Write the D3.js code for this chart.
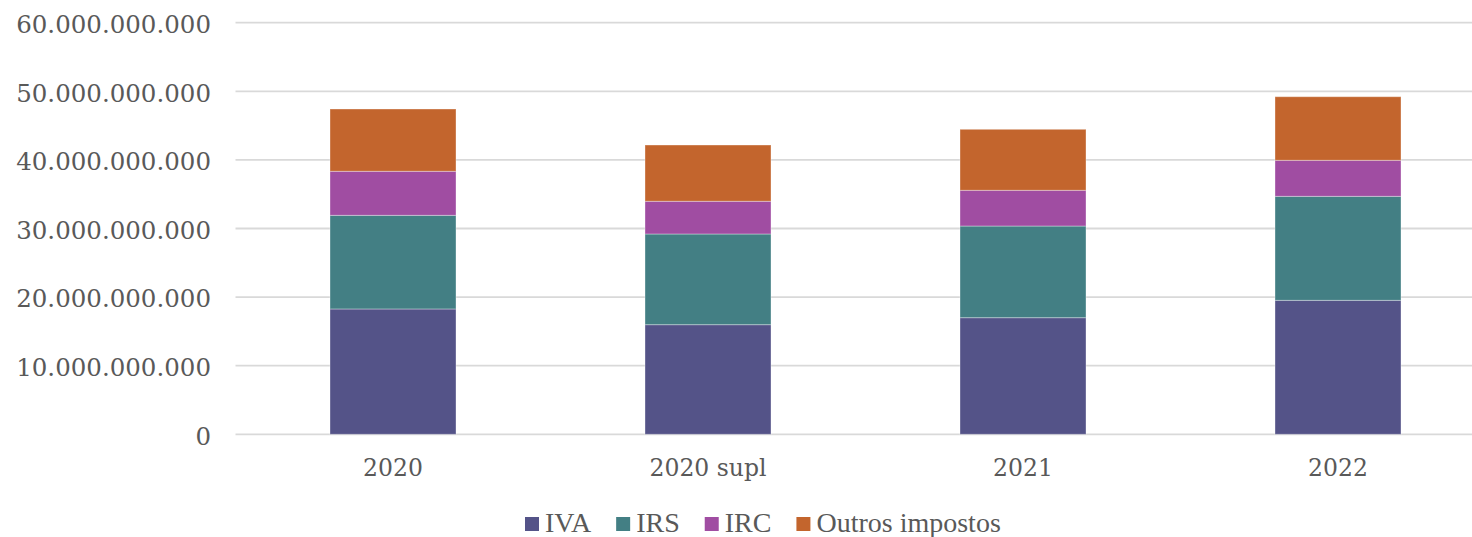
<!DOCTYPE html>
<html>
<head>
<meta charset="utf-8">
<script src="https://cdn.jsdelivr.net/npm/d3@7"></script>
<style>
  html, body { margin: 0; padding: 0; background: #fff; }
  svg { display: block; }
</style>
</head>
<body>
<svg id="chart" width="1472" height="537"></svg>
<script>
// Receita fiscal por imposto (euros)
const categories = ["2020", "2020 supl", "2021", "2022"];
const seriesNames = ["IVA", "IRS", "IRC", "Outros impostos"];
const iva    = [18270000000, 15980000000, 17000000000, 19530000000];
const irs    = [13650000000, 13220000000, 13360000000, 15160000000];
const irc    = [ 6420000000,  4770000000,  5210000000,  5250000000];
const outros = [ 9080000000,  8200000000,  8890000000,  9270000000];
const yTicks = [0, 10000000000, 20000000000, 30000000000, 40000000000, 50000000000, 60000000000];
const colors = ["#545388", "#437F84", "#A04DA2", "#C3652D"];

const seriesValues = [iva, irs, irc, outros];
const rows = categories.map((c, i) => {
  const r = { category: c };
  seriesNames.forEach((s, k) => { r[s] = seriesValues[k][i]; });
  return r;
});

const svg = d3.select("#chart");
const plotLeft = 235.5, plotRight = 1495.5, plotTop = 22.7, plotBottom = 434.3;

const x = d3.scaleBand()
  .domain(categories)
  .range([plotLeft, plotRight])
  .paddingInner(0.6)
  .paddingOuter(0.3);

const y = d3.scaleLinear()
  .domain([0, 60000000000])
  .range([plotBottom, plotTop]);

const fmt = v => d3.format(",")(v).replace(/,/g, ".");

// Grid lines
svg.append("g")
  .selectAll("line")
  .data(yTicks)
  .join("line")
  .attr("x1", plotLeft)
  .attr("x2", 1472)
  .attr("y1", d => y(d))
  .attr("y2", d => y(d))
  .attr("stroke", "#d9d9d9")
  .attr("stroke-width", 1.8);

// Y axis labels
const yAxis = d3.axisLeft(y).tickValues(yTicks).tickFormat(fmt).tickSize(0).tickPadding(0);
const yg = svg.append("g").attr("transform", "translate(211,0)").call(yAxis);
yg.select(".domain").remove();
yg.selectAll("text")
  .attr("font-family", "'DejaVu Serif', serif")
  .attr("font-size", "24.5px")
  .attr("fill", "#595959")
  .attr("dy", "0.4em");

// Stacked bars
const stack = d3.stack().keys(seriesNames);
const stacked = stack(rows);
const color = d3.scaleOrdinal().domain(seriesNames).range(colors);

svg.append("g")
  .selectAll("g")
  .data(stacked)
  .join("g")
  .attr("fill", d => color(d.key))
  .selectAll("rect")
  .data(d => d)
  .join("rect")
  .attr("x", d => x(d.data.category))
  .attr("width", x.bandwidth())
  .attr("y", d => y(d[1]))
  .attr("height", d => y(d[0]) - y(d[1]))
  .attr("stroke", "rgba(255,255,255,0.35)")
  .attr("stroke-width", 1);

// X axis labels
const xAxis = d3.axisBottom(x).tickSize(0).tickPadding(0);
const xg = svg.append("g").attr("transform", "translate(0,476)").call(xAxis);
xg.select(".domain").remove();
xg.selectAll("text")
  .attr("font-family", "'DejaVu Serif', serif")
  .attr("font-size", "23.5px")
  .attr("fill", "#595959")
  .attr("dy", 0);

// Legend
const legend = svg.append("g");
let lx = 525;
seriesNames.forEach((name, i) => {
  legend.append("rect")
    .attr("x", lx).attr("y", 517)
    .attr("width", 14).attr("height", 14)
    .attr("fill", colors[i]);
  const t = legend.append("text")
    .attr("x", lx + 20).attr("y", 532)
    .attr("font-family", "'Liberation Serif', serif")
    .attr("font-size", "28px")
    .attr("fill", "#595959")
    .text(name);
  lx += 20 + t.node().getComputedTextLength() + 25;
});
</script>
</body>
</html>
